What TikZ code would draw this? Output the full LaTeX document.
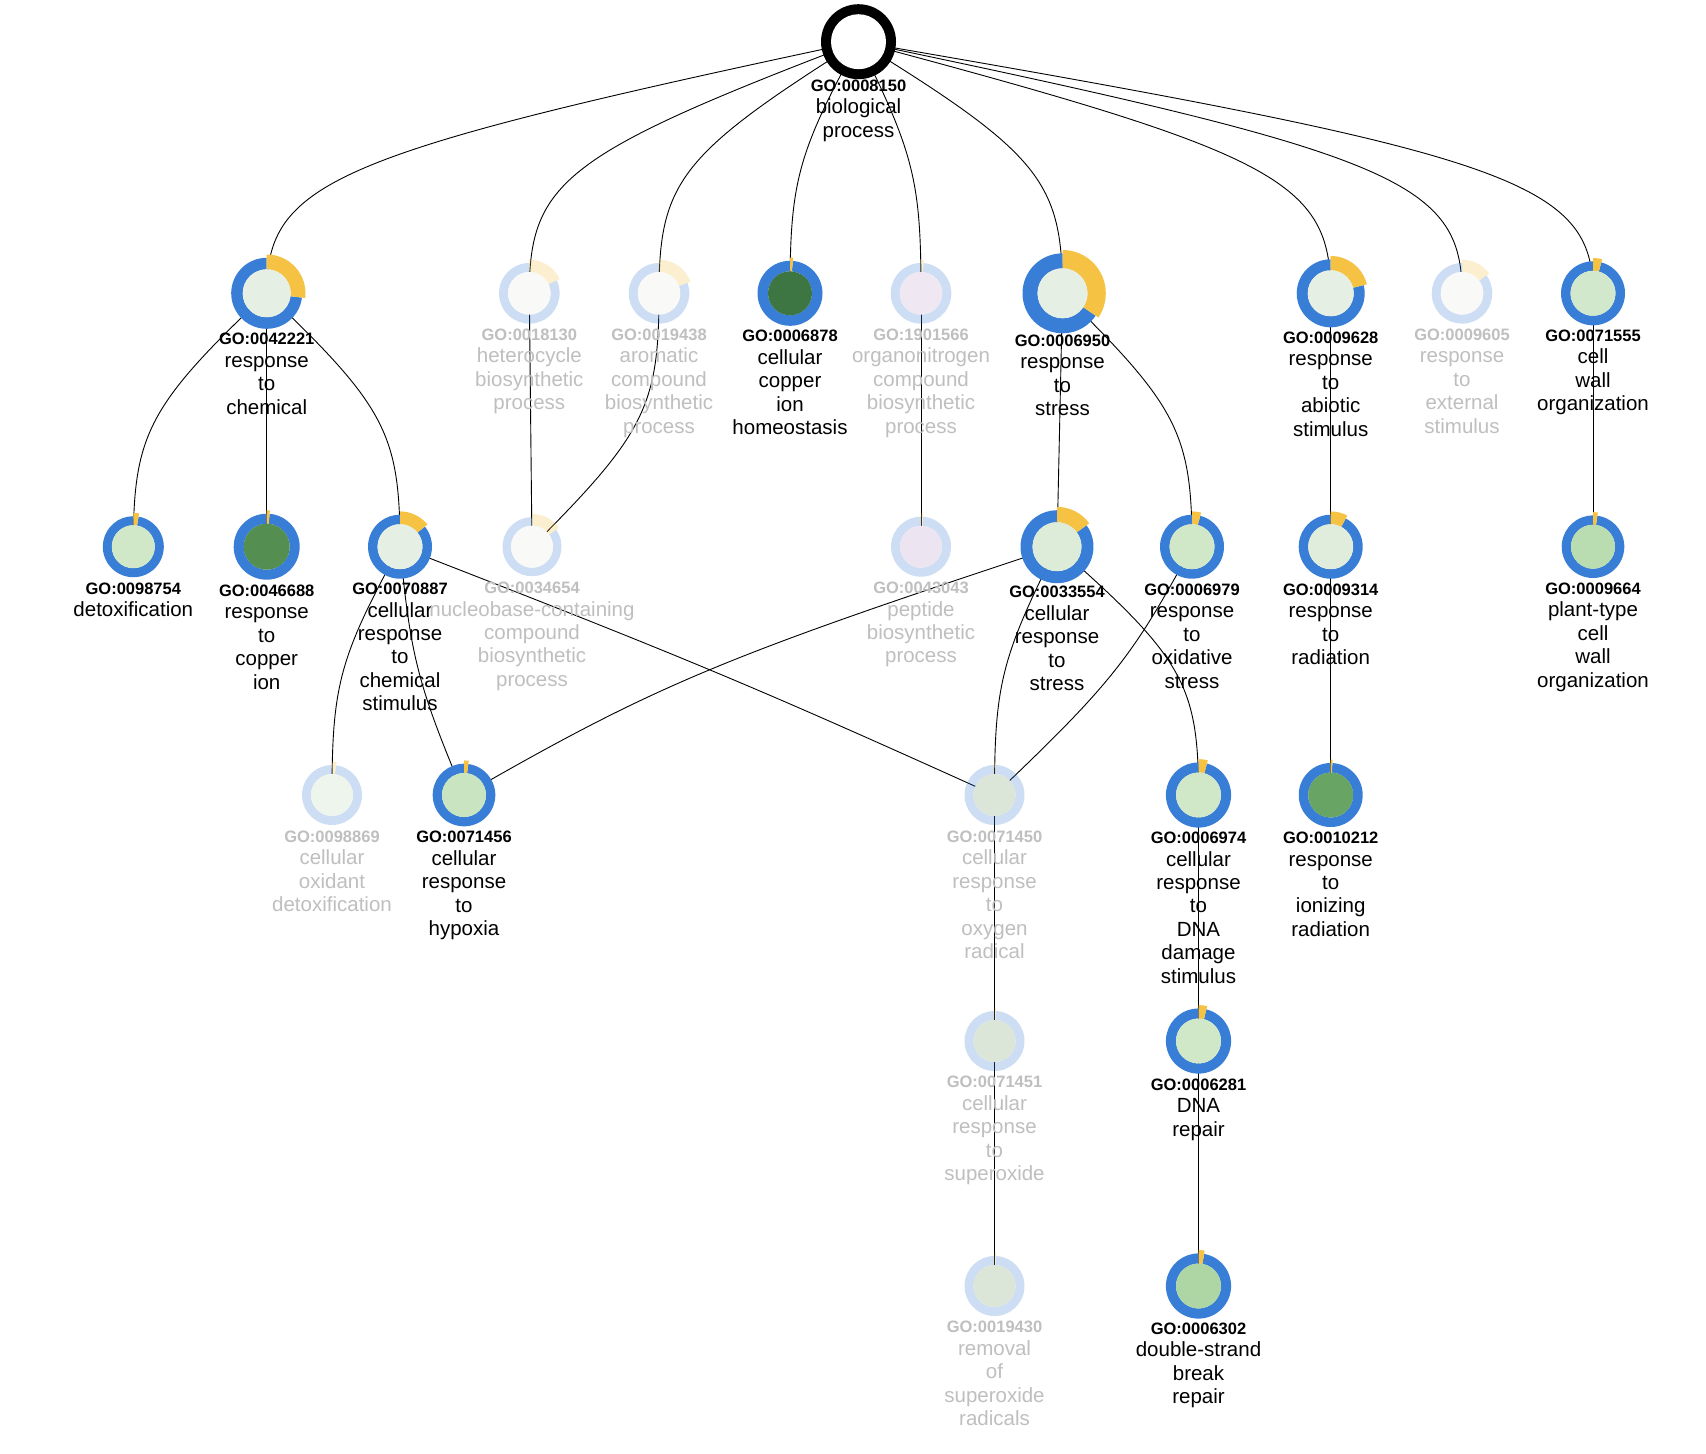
\documentclass[tikz,border=0pt]{standalone}
\usepackage{fontspec}
\setmainfont{Liberation Sans}
\usetikzlibrary{calc}
\definecolor{ringblue}{HTML}{387ED6}
\definecolor{yel}{HTML}{F5C244}
\definecolor{fadetxt}{HTML}{BFBFBF}
% named (invisible) circle node for a GO term
\newcommand\GOpos[4]{\node[circle,inner sep=0pt,minimum size={2*#4 pt},draw=none] (#1) at (#2,#3) {};}
% ring drawing: name, r, ri, inner colour, yellow angle, opacity
\newcommand\GOvis[6]{%
\begin{scope}[shift={(#1.center)}]
\definecolor{tmpinner}{HTML}{#4}%
\fill[ringblue,opacity=#6] (-90+#5:#2) arc[start angle=-90+#5,end angle=270,radius=#2] -- (270:#3) arc[start angle=270,end angle=-90+#5,radius=#3] -- cycle;
\fill[yel,opacity=#6] (-90:#3) arc[start angle=-90,end angle=-90+#5,radius=#3] -- (-90+#5:#2+3.3) arc[start angle=-90+#5,end angle=-90,radius=#2+3.3] -- cycle;
\fill[tmpinner] (0,0) circle[radius=#3];
\end{scope}}
% label: name, dy of ID baseline, ID, name words (comma list), colour
\newcommand\GOlab[5]{%
\node[idf,anchor=base,text=#5] (#1-id) at ($(#1.center)+(0,#2)$) {#3};
\foreach \w [count=\i] in {#4} {%
\node[nmf,anchor=base,text=#5] (#1-l\i) at ($(#1.center)+(0,{#2+22.8+23.4*(\i-1)})$) {\w};}}
% curved link through a mid point
\newcommand\lnk[4]{\draw[edge] (#1.center) .. controls ($(#1.center)!0.889!(#3,#4)$) and ($(#2.center)!0.889!(#3,#4)$) .. (#2.center);}
\newcommand\strl[2]{\draw[edge] (#1.center) -- (#2.center);}
\begin{document}
\begin{tikzpicture}[x=1pt,y=-1pt,
  edge/.style={draw=black,line width=0.9pt},
  idf/.style={font=\fontsize{16.5}{18}\selectfont\bfseries,inner sep=0pt},
  nmf/.style={font=\fontsize{20.5}{23.4}\selectfont,inner sep=0pt}]
\fill[white] (0,0) rectangle (1706,1454);
\useasboundingbox (0,0) rectangle (1706,1454);
% ---------- positions
\GOpos{n8150}{858.5}{41.7}{37.5}
\GOpos{n42221}{266.7}{293.3}{35.5}
\GOpos{n18130}{529.3}{293.3}{30.3}
\GOpos{n19438}{659}{293.3}{30.3}
\GOpos{n6878}{790}{293.3}{32.5}
\GOpos{n1901566}{921}{293.3}{30.3}
\GOpos{n6950}{1062.5}{293.3}{40}
\GOpos{n9628}{1330.7}{293.3}{34}
\GOpos{n9605}{1462}{293.3}{30.3}
\GOpos{n71555}{1593}{293.3}{32}
\GOpos{n98754}{133.3}{546.7}{30.5}
\GOpos{n46688}{266.7}{546.7}{33}
\GOpos{n70887}{400}{546.7}{32}
\GOpos{n34654}{532}{546.7}{29.5}
\GOpos{n43043}{921}{546.7}{30}
\GOpos{n33554}{1057}{546.7}{36.5}
\GOpos{n6979}{1192}{546.7}{32}
\GOpos{n9314}{1330.7}{546.7}{32}
\GOpos{n9664}{1593}{546.7}{31.3}
\GOpos{n98869}{332}{795}{30}
\GOpos{n71456}{464}{795}{31.3}
\GOpos{n71450}{994.5}{795}{30}
\GOpos{n6974}{1198.5}{795}{32.6}
\GOpos{n10212}{1330.7}{795}{32}
\GOpos{n71451}{994.5}{1041}{30}
\GOpos{n6281}{1198.5}{1041}{32.6}
\GOpos{n19430}{994.5}{1286}{30}
\GOpos{n6302}{1198.5}{1286}{32.6}
% ---------- edges
\lnk{n8150}{n42221}{266.7}{167.5}
\lnk{n8150}{n18130}{529.3}{167.5}
\lnk{n8150}{n19438}{659}{167.5}
\lnk{n8150}{n6878}{790}{167.5}
\lnk{n8150}{n1901566}{921}{167.5}
\lnk{n8150}{n6950}{1062.5}{167.5}
\lnk{n8150}{n9628}{1330.7}{167.5}
\lnk{n8150}{n9605}{1462}{167.5}
\lnk{n8150}{n71555}{1593}{167.5}
\lnk{n42221}{n98754}{133.3}{420}
\strl{n42221}{n46688}
\lnk{n42221}{n70887}{400}{420}
\strl{n18130}{n34654}
\lnk{n19438}{n34654}{659}{420}
\strl{n1901566}{n43043}
\strl{n6950}{n33554}
\lnk{n6950}{n6979}{1192}{420}
\strl{n9628}{n9314}
\strl{n71555}{n9664}
\lnk{n70887}{n98869}{332}{671}
\lnk{n70887}{n71456}{412}{671}
\lnk{n70887}{n71450}{720}{671}
\lnk{n33554}{n71456}{680}{671}
\lnk{n33554}{n71450}{994.5}{671}
\lnk{n33554}{n6974}{1198.5}{671}
\lnk{n6979}{n71450}{1125}{671}
\strl{n9314}{n10212}
\strl{n71450}{n71451}
\strl{n6974}{n6281}
\strl{n71451}{n19430}
\strl{n6281}{n6302}
% ---------- root node
\fill[black] (n8150.center) circle[radius=37.5];
\fill[white] (n8150.center) circle[radius=27.5];
\GOlab{n8150}{49.3}{GO:0008150}{biological,process}{black}
% ---------- term nodes
\GOvis{n42221}{35.5}{24}{E6EFE4}{97}{1}
\GOlab{n42221}{51.2}{GO:0042221}{response,to,chemical}{black}
\GOvis{n18130}{30.3}{21.3}{F9FAF7}{65}{0.25}
\GOlab{n18130}{46.7}{GO:0018130}{heterocycle,biosynthetic,process}{fadetxt}
\GOvis{n19438}{30.3}{21.3}{F9FAF7}{70}{0.25}
\GOlab{n19438}{46.7}{GO:0019438}{aromatic,compound,biosynthetic,process}{fadetxt}
\GOvis{n6878}{32.5}{22}{3D7543}{5}{1}
\GOlab{n6878}{48.2}{GO:0006878}{cellular,copper,ion,homeostasis}{black}
\GOvis{n1901566}{30.3}{21.3}{EFE8F2}{5}{0.25}
\GOlab{n1901566}{46.7}{GO:1901566}{organonitrogen,compound,biosynthetic,process}{fadetxt}
\GOvis{n6950}{40}{25}{E6EFE4}{124}{1}
\GOlab{n6950}{52.7}{GO:0006950}{response,to,stress}{black}
\GOvis{n9628}{34}{23}{E6EFE4}{76}{1}
\GOlab{n9628}{49.7}{GO:0009628}{response,to,abiotic,stimulus}{black}
\GOvis{n9605}{30.3}{21.3}{F9FAF7}{54}{0.25}
\GOlab{n9605}{46.7}{GO:0009605}{response,to,external,stimulus}{fadetxt}
\GOvis{n71555}{32}{22.5}{D2E8CC}{15}{1}
\GOlab{n71555}{47.7}{GO:0071555}{cell,wall,organization}{black}
\GOvis{n98754}{30.5}{21.5}{D0E8C8}{10}{1}
\GOlab{n98754}{47.3}{GO:0098754}{detoxification}{black}
\GOvis{n46688}{33}{23}{548F51}{5}{1}
\GOlab{n46688}{49.3}{GO:0046688}{response,to,copper,ion}{black}
\GOvis{n70887}{32}{22.5}{E6EFE4}{51}{1}
\GOlab{n70887}{47.6}{GO:0070887}{cellular,response,to,chemical,stimulus}{black}
\GOvis{n34654}{29.5}{21}{F9FAF7}{55}{0.25}
\GOlab{n34654}{46.6}{GO:0034654}{nucleobase-containing,compound,biosynthetic,process}{fadetxt}
\GOvis{n43043}{30}{21}{ECE4F0}{4}{0.25}
\GOlab{n43043}{46.6}{GO:0043043}{peptide,biosynthetic,process}{fadetxt}
\GOvis{n33554}{36.5}{24.5}{DCECD8}{54}{1}
\GOlab{n33554}{50.8}{GO:0033554}{cellular,response,to,stress}{black}
\GOvis{n6979}{32}{22.5}{D0E8C8}{15}{1}
\GOlab{n6979}{48.3}{GO:0006979}{response,to,oxidative,stress}{black}
\GOvis{n9314}{32}{22.5}{E0ECDC}{28}{1}
\GOlab{n9314}{48.3}{GO:0009314}{response,to,radiation}{black}
\GOvis{n9664}{31.3}{22}{B9DCB1}{8}{1}
\GOlab{n9664}{47.3}{GO:0009664}{plant-type,cell,wall,organization}{black}
\GOvis{n98869}{30}{21}{EEF5EC}{8}{0.25}
\GOlab{n98869}{47}{GO:0098869}{cellular,oxidant,detoxification}{fadetxt}
\GOvis{n71456}{31.3}{22}{C8E4C0}{8}{1}
\GOlab{n71456}{47.7}{GO:0071456}{cellular,response,to,hypoxia}{black}
\GOvis{n71450}{30}{21}{DCE6D8}{3}{0.25}
\GOlab{n71450}{47}{GO:0071450}{cellular,response,to,oxygen,radical}{fadetxt}
\GOvis{n6974}{32.6}{22.5}{D0E8C8}{15}{1}
\GOlab{n6974}{48.3}{GO:0006974}{cellular,response,to,DNA,damage,stimulus}{black}
\GOvis{n10212}{32}{22.5}{68A464}{3}{1}
\GOlab{n10212}{48.3}{GO:0010212}{response,to,ionizing,radiation}{black}
\GOvis{n71451}{30}{21}{DCE6D8}{3}{0.25}
\GOlab{n71451}{46.7}{GO:0071451}{cellular,response,to,superoxide}{fadetxt}
\GOvis{n6281}{32.6}{22.5}{D0E8C8}{14}{1}
\GOlab{n6281}{49}{GO:0006281}{DNA,repair}{black}
\GOvis{n19430}{30}{21}{DCE6D8}{3}{0.25}
\GOlab{n19430}{46.7}{GO:0019430}{removal,of,superoxide,radicals}{fadetxt}
\GOvis{n6302}{32.6}{22.5}{AED6A4}{10}{1}
\GOlab{n6302}{48}{GO:0006302}{double-strand,break,repair}{black}
\end{tikzpicture}
\end{document}
